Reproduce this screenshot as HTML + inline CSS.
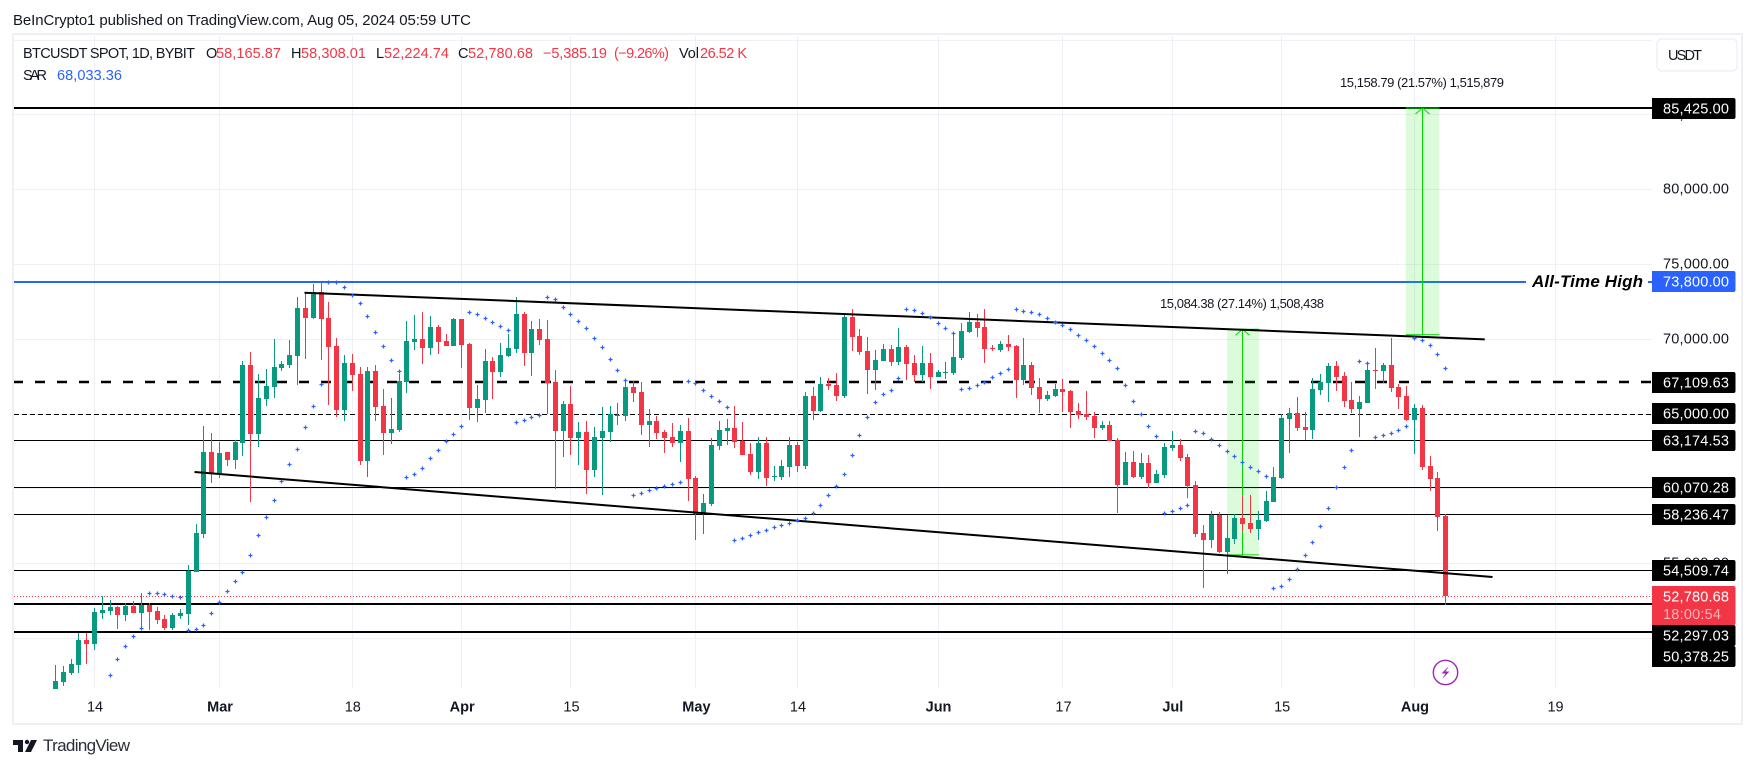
<!DOCTYPE html>
<html lang="en">
<head>
<meta charset="utf-8">
<title>BTCUSDT chart</title>
<style>
html,body{margin:0;padding:0;background:#fff;width:1755px;height:768px;overflow:hidden}
svg{display:block}
text{font-family:"Liberation Sans",sans-serif;font-size:14.5px;fill:#131722}
.red{fill:#f23645}
.crisp rect{shape-rendering:crispEdges}
</style>
</head>
<body>
<svg id="chart" xmlns="http://www.w3.org/2000/svg" width="1755" height="768" viewBox="0 0 1755 768">
  <rect x="0" y="0" width="1755" height="768" fill="#ffffff"/>
  <text x="13" y="25" textLength="458" style="font-size:15px">BeInCrypto1 published on TradingView.com, Aug 05, 2024 05:59 UTC</text>
  <g id="grid" class="crisp"></g>
  <g id="levels" class="crisp"></g>
  <g id="measureFills"></g>
  <g id="candles" class="crisp"></g>
  <g id="trend"></g>
  <g id="sar"></g>

  <rect x="13" y="34" width="1729" height="690" fill="none" stroke="#eff0f6" stroke-width="2"/>

  <g>
    <text x="23" y="58" textLength="172">BTCUSDT SPOT, 1D, BYBIT</text>
    <text x="206" y="58">O</text>
    <text class="red" x="216" y="58" textLength="65">58,165.87</text>
    <text x="291" y="58">H</text>
    <text class="red" x="301" y="58" textLength="65">58,308.01</text>
    <text x="376" y="58">L</text>
    <text class="red" x="384" y="58" textLength="65">52,224.74</text>
    <text x="458" y="58">C</text>
    <text class="red" x="468" y="58" textLength="65">52,780.68</text>
    <text class="red" x="543" y="58" textLength="64">&#8722;5,385.19</text>
    <text class="red" x="614" y="58" textLength="55">(&#8722;9.26%)</text>
    <text x="679" y="58" textLength="20">Vol</text>
    <text class="red" x="700" y="58" textLength="47">26.52 K</text>
    <text x="23" y="80" textLength="24">SAR</text>
    <text x="57" y="80" textLength="65" style="fill:#2962ff">68,033.36</text>
  </g>

  <text x="1340" y="87" textLength="164" style="font-size:13px">15,158.79 (21.57%) 1,515,879</text>
  <text x="1160" y="308" textLength="164" style="font-size:13px">15,084.38 (27.14%) 1,508,438</text>
  <text x="1532" y="287" textLength="111" style="font-size:17px;font-weight:bold;font-style:italic;fill:#000">All-Time High</text>

  <g id="yTicks"></g>
  <g id="xTicks"></g>
  <g id="labels"></g>

  <g>
    <rect x="1657" y="39" width="80" height="32" rx="5" fill="#ffffff" stroke="#eff0f6" stroke-width="1.5"/>
    <text x="1668" y="60" textLength="34">USDT</text>
  </g>

  <g>
    <circle cx="1445.5" cy="672.5" r="12.2" fill="#ffffff" stroke="#9c27b0" stroke-width="1.4"/>
    <path d="M1449 666 L1441.5 673.5 L1445.5 673.5 L1442 679 L1449.5 671.5 L1445.5 671.5 Z" fill="#9c27b0"/>
  </g>

  <g>
    <path d="M13 740 H23 V752 H18 V745 H13 Z M31 740 H37 L31 752 H25 Z" fill="#131722"/>
    <circle cx="27" cy="742" r="2.2" fill="#131722"/>
    <text x="43" y="751" textLength="87" style="font-size:17px;fill:#2a2e39">TradingView</text>
  </g>
</svg>

<script>
const opens = [46591,47059,47661,48195,49866,49599,51671,51805,52072,51537,
52139,51671,52206,51805,51270,50668,51471,51604,54412,56951,
62432,61028,62432,61897,63034,68247,63635,65975,66777,68047,
68247,68849,72057,71389,73104,71389,69517,65239,68381,67646,
61831,67846,65507,63702,63903,67111,69785,69985,69383,70787,
69851,69517,71322,69651,65373,65908,68515,67779,68849,69317,
71656,69050,70654,69985,67111,63836,65641,63368,63769,61229,
63368,63769,64839,64839,66777,66443,64237,64505,63769,63435,
63034,63836,60695,58288,58957,62834,63836,64037,63168,62299,
61096,63034,60762,60762,61430,62900,61497,66176,65172,66977,
66910,66175,71455,70185,69183,67913,68514,69316,68448,69450,
68381,67579,68381,67445,67712,67712,68715,70453,71121,70787,
69383,69250,69651,69517,67244,68247,66777,65974,66175,66643,
66509,65172,64972,64838,64036,64237,63234,60226,61764,60761,
61697,60360,60895,62699,62900,62098,60226,57018,56550,58221,
55748,56617,58021,57686,57285,57820,59090,60694,64638,65039,
64103,63903,66576,67044,68180,67512,65908,65306,65707,67913,
67846,68247,66777,66175,64571,65373,61496,60694,58165.87];

const highs = [48195,48129,48596,50334,50334,52005,52807,52540,52139,52339,
52473,53008,52339,52072,51537,51671,51938,54879,57620,64170,
63702,63101,62432,63234,68515,69116,67646,67980,69985,68515,
69918,72792,73127,73661,73795,72458,70052,68916,68982,68114,
68114,68247,66643,66041,67646,71188,71589,71790,71522,70921,
70319,71389,71322,69718,66910,69317,68782,69718,70319,72793,
71790,71189,71322,71255,67913,65841,66844,64438,64505,64104,
65440,65507,65708,67312,67178,67111,65307,64839,63903,64371,
64237,64705,60828,59625,63368,64505,64638,65507,64438,63034,
63435,63435,61497,61898,63435,63101,66443,66777,67445,67378,
67712,71656,71990,70653,70119,69250,69651,69584,70720,69584,
68915,69517,69049,67913,68448,70453,71054,71790,71656,71990,
69584,69851,70252,69584,70052,68448,67378,66509,66977,67311,
66576,65707,66509,65106,64504,64504,63368,62432,62499,62365,
62232,61229,63034,63836,63301,62298,60494,57553,58489,58422,
58221,58288,59491,59558,58489,59825,61430,64972,65373,66108,
65106,67378,67646,68381,68515,67779,67111,66175,68448,69383,
68381,70052,66977,66844,65640,65574,62165,61095,58308.01];

const lows = [46591,46792,47527,47661,48262,49198,51270,51537,50602,51136,
51671,50624,50535,50936,50535,50535,51270,50869,54412,56684,
60360,60694,61496,61296,62165,59090,62766,65507,66041,67846,
68047,66910,68648,71322,68581,65574,64772,64504,66509,61563,
60761,64504,62232,62967,63769,66376,69250,68314,68916,68982,
69517,69517,68047,64571,64437,65039,65975,67445,68782,69050,
68181,67512,69584,64972,59959,62098,62232,61564,59625,60762,
59558,63101,64237,64505,65775,63569,62767,63301,62366,62767,
61764,59157,56551,56952,58823,62566,62900,62700,62232,60895,
60628,60160,60494,60561,60762,61096,61296,64571,65106,66576,
65841,66041,69183,68915,66309,66576,68514,68180,68247,67244,
67111,67111,66643,67445,67311,67579,68581,70386,70119,68381,
69183,69116,69183,66041,66910,66242,65039,65841,66108,65106,
64036,64638,64571,63368,63902,63167,58355,60226,60694,60627,
60026,60360,60694,62499,61831,59357,56751,53342,56015,55681,
54278,56283,57152,57018,56550,57753,59090,60627,62365,63836,
63234,63301,66242,65774,66509,65440,65039,63435,65707,66643,
67044,66443,65306,64504,62298,61229,59825,57152,52224.74];

const closes = [47126,47728,48262,49866,49599,51738,51872,52072,51537,52139,
51671,52206,51738,51203,50668,51537,51671,54456,57018,62432,
61028,62365,61897,63101,68247,63635,66041,66844,68114,68314,
68916,72057,71389,73127,71322,69450,65239,68381,67579,61831,
67846,65440,63702,63969,67178,69851,69985,69383,70787,69785,
69517,71322,69584,65373,65975,68515,67779,68916,69383,71656,
69050,70654,69919,67044,63836,65641,63368,63769,61229,63435,
63836,64950,64906,66777,66376,64237,64505,63702,63368,63034,
63836,60628,58288,59024,62900,63903,64037,63101,62232,61096,
63034,60695,60828,61497,62900,61497,66176,65173,66977,66843,
66175,71455,70119,69116,67913,68581,69316,68448,69450,68314,
67579,68381,67445,67779,67779,68782,70520,71121,70720,69316,
69316,69651,69450,67244,68247,66710,65974,66242,66643,66442,
65106,64905,64771,64036,64237,63167,60226,61764,60761,61697,
60360,60962,62766,62900,62031,60160,56951,56550,58221,55748,
56684,58021,57620,57285,57887,59157,60761,64705,65039,64036,
63903,66643,67111,68180,67445,65841,65306,65774,67913,67846,
68247,66710,66108,64571,65373,61430,60627,58088,52780.68];

const sarValues = [null,null,null,null,null,null,null,47505,48574,49443,
50111,50646,52986,52986,52919,52785,52718,50513,50579,50847,
51649,52384,53119,53788,54389,55526,56862,58065,59202,60472,
61608,62611,64081,65485,66955,73773,73773,73438,72926,72369,
71500,70431,69495,68559,67824,60739,60939,61340,62009,62544,
63145,63613,64148,71767,71634,71366,71099,70832,70564,64415,
64549,64750,64883,72770,72637,72102,71634,71166,70698,70030,
69428,68626,67891,67223,59536,59670,59870,60004,60138,60271,
60405,67156,67022,66554,66153,65819,65418,56528,56662,56863,
57063,57197,57397,57531,57665,57865,57998,58332,58867,59536,
60137,60939,62209,63546,64749,65752,66286,66554,67356,71968,
71901,71700,71433,71032,70698,70364,66621,66687,66888,67088,
67423,67690,67957,71968,71834,71767,71634,71366,71099,70898,
70631,70230,69896,69495,69027,68559,68024,66888,65819,64950,
64148,63479,58333,58466,58667,58867,63813,63680,63279,62878,
62477,62142,61741,61407,61140,60806,53320,53453,53921,54590,
55525,56394,57464,58667,60070,61407,62544,68492,68359,63412,
63546,63680,63880,64148,70030,69896,69562,68960,68033.36];

const timeTickLabels = ["14","Mar","18","Apr","15","May","14","Jun","17","Jul","15","Aug","19"];
const timeTickDays = [5,21,38,52,66,82,95,113,129,143,157,174,192];
const gridPrices = [90000,85000,80000,75000,70000,65000,60000,55000,50000];
const priceTickValues = [85000,80000,75000,70000,65000,60000,55000,50000];

const heavyLevels = [85425,52297.03,50378.25];
const lightLevels = [63174.53,60070.28,58236.47,54509.74];
const heavyDashedLevels = [67109.63];
const lightDashedLevels = [65000];
const allTimeHigh = [73800];
const lastPrice = [52780.68];
const countdownText = "18:00:54";

const upperTrendDays = [31.88,183];
const upperTrendPrices = [73080,69965];
const lowerTrendDays = [17.8,184];
const lowerTrendPrices = [61095,54077];

const measureLeftDays = [150,172.9];
const measureRightDays = [154.1,177.2];
const measureArrowDays = [152,175];
const measureFromPrices = [55556,70267];
const measureToPrices = [70640,85425];

const SVGNS = "http://www.w3.org/2000/svg";
const PANE_LEFT = 14, PANE_RIGHT = 1652, PANE_TOP = 36, PANE_BOTTOM = 688;
function xAxis(day){ return 55.5 + 7.81 * day; }
function yAxis(price){ return 638 - (price - 50000) * 0.01496; }
function px(v){ return Math.floor(v); }

function make(tag, parent, props){
  const el = document.createElementNS(SVGNS, tag);
  for (const k in props) el.setAttribute(k, props[k]);
  parent.appendChild(el);
  return el;
}
function byId(id){ return document.getElementById(id); }
function money(v){ return v.toLocaleString("en-US",{minimumFractionDigits:2,maximumFractionDigits:2}); }

/* grid */
gridPrices.forEach(function(p){
  const el = make("rect", byId("grid"), {x:PANE_LEFT, y:Math.round(yAxis(p)), width:PANE_RIGHT-PANE_LEFT, height:1, fill:"#eff0f6"});
  
  
});
timeTickDays.forEach(function(d){
  const el = make("rect", byId("grid"), {x:px(xAxis(d)), y:PANE_TOP, width:1, height:PANE_BOTTOM-PANE_TOP, fill:"#eff0f6"});
  
  
});

/* horizontal levels */
function levelRow(price, height, color, right){
  const el = make("rect", byId("levels"), {x:PANE_LEFT, y:Math.floor(yAxis(price)+0.5-height/2), width:right-PANE_LEFT, height:height, fill:color});
  return el;
}
heavyLevels.forEach(function(p){
  const el = levelRow(p, 2, "#000000", PANE_RIGHT);
  
  
});
lightLevels.forEach(function(p){
  const el = levelRow(p, 1, "#000000", PANE_RIGHT);
  
  
});
allTimeHigh.forEach(function(p){
  const el = levelRow(p, 2, "#2962ff", 1526);
  
  
  const stub = make("rect", byId("levels"), {x:1648, y:Math.round(yAxis(p)-1), width:4, height:2, fill:"#2962ff"});
  
  
});
heavyDashedLevels.forEach(function(p){
  const yy = Math.round(yAxis(p));
  const el = make("line", byId("levels"), {x1:13, x2:PANE_RIGHT, y1:yy, y2:yy, stroke:"#000", "stroke-width":2.4, "stroke-dasharray":"10 12"});
  
  
});
lightDashedLevels.forEach(function(p){
  const yy = Math.round(yAxis(p)) + 0.5;
  const el = make("line", byId("levels"), {x1:PANE_LEFT, x2:PANE_RIGHT, y1:yy, y2:yy, stroke:"#000", "stroke-width":1, "stroke-dasharray":"5 3"});
  
  
});
lastPrice.forEach(function(p){
  const yy = Math.round(yAxis(p)) + 0.5;
  const el = make("line", byId("levels"), {x1:PANE_LEFT, x2:PANE_RIGHT, y1:yy, y2:yy, stroke:"#f23645", "stroke-width":1, "stroke-dasharray":"1 2"});
  
  
});

/* measure tools (behind candles) */
measureArrowDays.forEach(function(day, i){
  const left = xAxis(measureLeftDays[i]), right = xAxis(measureRightDays[i]);
  const top = yAxis(measureToPrices[i]), bottom = yAxis(measureFromPrices[i]);
  const ax = px(xAxis(day)) + 0.5;
  const box = make("rect", byId("measureFills"), {x:left, y:top, width:right-left, height:bottom-top, fill:"#00e600", "fill-opacity":0.14});
  
  
  const base = make("line", byId("measureFills"), {x1:left, x2:right, y1:bottom, y2:bottom, stroke:"#00d800", "stroke-width":1});
  
  
  const cap = make("line", byId("measureFills"), {x1:left, x2:right, y1:top, y2:top, stroke:"#00d800", "stroke-width":1});
  
  
  const shaft = make("line", byId("measureFills"), {x1:ax, x2:ax, y1:top, y2:bottom, stroke:"#00d800", "stroke-width":1});
  
  
  const head = make("polyline", byId("measureFills"), {points:(ax-7)+","+(top+6)+" "+ax+","+top+" "+(ax+7)+","+(top+6), fill:"none", stroke:"#00d800", "stroke-width":1});
  
  
});

/* candles */
opens.forEach(function(open, i){
  const close = closes[i], high = highs[i], low = lows[i];
  const color = close >= open ? "#089981" : "#f23645";
  const cx = px(xAxis(i));
  const g = make("g", byId("candles"), {});
  
  
  const wickTop = Math.round(yAxis(high)), wickBottom = Math.round(yAxis(low));
  const wick = make("rect", g, {x:cx, y:wickTop, width:1, height:Math.max(1, wickBottom-wickTop), fill:color});
  
  
  const bodyTop = Math.round(yAxis(Math.max(open, close))), bodyBottom = Math.round(yAxis(Math.min(open, close)));
  const body = make("rect", g, {x:cx-2, y:bodyTop, width:5, height:Math.max(1, bodyBottom-bodyTop), fill:color});
  
  
});

/* trendlines */
function trendline(days, prices){
  return make("line", byId("trend"), {x1:xAxis(days[0]), y1:yAxis(prices[0]), x2:xAxis(days[1]), y2:yAxis(prices[1]), stroke:"#000", "stroke-width":2});
}
const upperTrend = trendline(upperTrendDays, upperTrendPrices);


const lowerTrend = trendline(lowerTrendDays, lowerTrendPrices);



/* parabolic SAR */
sarValues.forEach(function(v, i){
  if (v === null) return;
  const cx = px(xAxis(i)) + 0.5, cy = Math.round(yAxis(v)) + 0.5;
  const mark = make("path", byId("sar"), {d:"M"+(cx-2)+" "+cy+"h4M"+cx+" "+(cy-2)+"v4", fill:"none", stroke:"#2962ff", "stroke-width":1.2});
  
  
});

/* axis ticks */
priceTickValues.forEach(function(v){
  const t = make("text", byId("yTicks"), {x:1663, y:yAxis(v)+4.5, textLength:66});
  
  
  t.textContent = money(v);
});
timeTickLabels.forEach(function(label, i){
  const isMonth = isNaN(parseInt(label, 10));
  const t = make("text", byId("xTicks"), {x:xAxis(timeTickDays[i])+0.5, y:711.5, "text-anchor":"middle"});
  if (isMonth) t.style.fontWeight = "bold";
  
  
  t.textContent = label;
});

/* right-hand value labels, pushed down where they collide */
const labelPrices = heavyLevels.concat(lightLevels, heavyDashedLevels, lightDashedLevels, allTimeHigh, lastPrice).sort(function(a, b){ return b - a; });
let nextTop = 0;
labelPrices.forEach(function(p){
  const isLast = lastPrice.indexOf(p) !== -1;
  const isHigh = allTimeHigh.indexOf(p) !== -1;
  const h = isLast ? 39 : 21;
  const top = Math.max(Math.round(yAxis(p) - 10.5), nextTop);
  nextTop = top + h;
  const bg = isLast ? "#f23645" : (isHigh ? "#2962ff" : "#000000");
  const box = make("path", byId("labels"), {d:"M1652 "+top+"H1733.5q2 0 2 2V"+(top+h-2)+"q0 2 -2 2H1652Z", fill:bg});
  
  
  const t = make("text", byId("labels"), {x:1663, y:top+15.5, textLength:66});
  t.style.fill = "#ffffff";
  
  
  t.textContent = money(p);
  if (isLast) {
    const c = make("text", byId("labels"), {x:1663, y:top+33, textLength:58});
    c.style.fill = "#fbb4ba";
    
    
    c.textContent = countdownText;
  }
});
</script>
</body>
</html>
